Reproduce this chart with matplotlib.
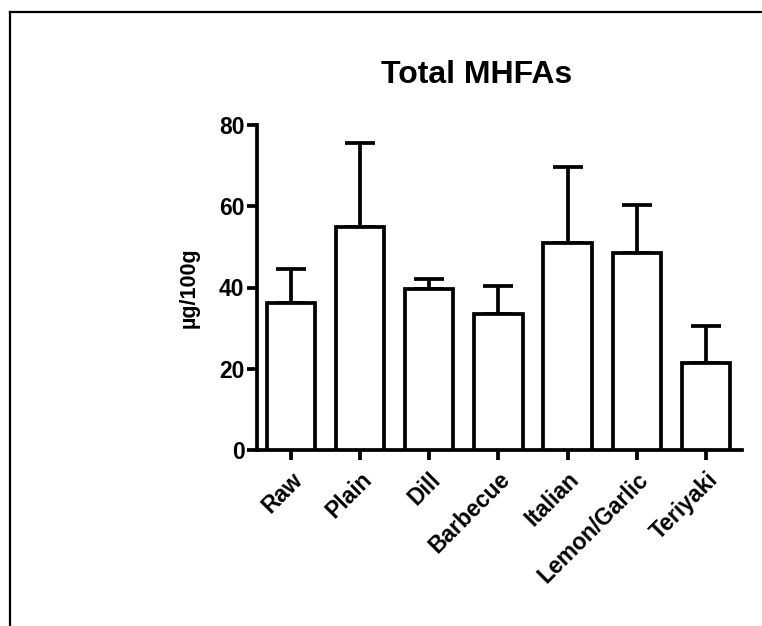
import numpy as np
import matplotlib
matplotlib.use("Agg")
import matplotlib.pyplot as plt
from matplotlib.lines import Line2D

plt.rcParams['font.family'] = ['Liberation Sans', 'DejaVu Sans']
plt.rcParams['font.weight'] = 'bold'

# data
categories = ['Raw', 'Plain', 'Dill', 'Barbecue', 'Italian', 'Lemon/Garlic', 'Teriyaki']
means = [36.1, 55.0, 39.6, 33.6, 50.9, 48.6, 21.5]
errs = [8.4, 20.5, 2.5, 6.8, 18.8, 11.7, 9.0]
yticks = [0, 20, 40, 60, 80]

lw = 2.7

fig = plt.figure(figsize=(7.62, 6.26), dpi=100)
ax = fig.add_axes([257 / 762, 1 - 450 / 626, (742 - 257) / 762, (450 - 125) / 626])

x = np.arange(len(categories))
ax.bar(x, means, width=0.7, color='white', edgecolor='black', linewidth=lw, zorder=3)
ax.errorbar(x, means, yerr=[np.zeros(len(errs)), errs], fmt='none', ecolor='black',
            elinewidth=lw, capsize=11, capthick=lw, zorder=2)

ax.set_xlim(-0.49, 6.52)
ax.set_ylim(0, 80)
ax.set_yticks(yticks)
ax.set_xticks(x)
ax.set_xticklabels(categories, rotation=45, ha='right', va='top', rotation_mode='anchor')

for s in ['top', 'right']:
    ax.spines[s].set_visible(False)
for s in ['left', 'bottom']:
    ax.spines[s].set_linewidth(lw)
ax.tick_params(axis='both', width=lw, length=7, labelsize=16.5, pad=2)
ax.tick_params(axis='x', pad=6)

ax.set_ylabel('µg/100g', fontsize=15.5, fontweight='bold', labelpad=14)
fig.text(477 / 762, 1 - 75 / 626, 'Total MHFAs', fontsize=23, fontweight='bold',
         ha='center', va='center')

# frame lines from the cropped figure
fig.add_artist(Line2D([10 / 762, 1], [1 - 12 / 626, 1 - 12 / 626], color='black', lw=1.6))
fig.add_artist(Line2D([10 / 762, 10 / 762], [0, 1 - 12 / 626], color='black', lw=1.6))

fig.savefig('out.png', dpi=100)
